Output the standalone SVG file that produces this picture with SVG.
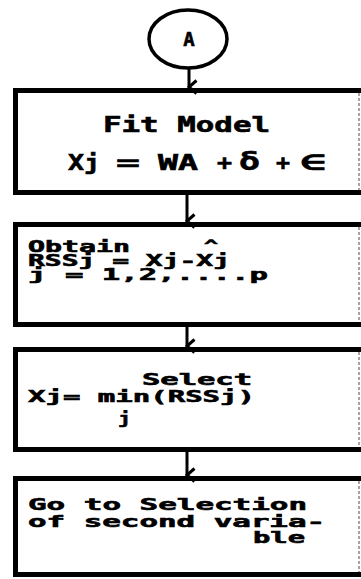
<svg xmlns="http://www.w3.org/2000/svg" width="361" height="579" viewBox="0 0 361 579">
<defs>
<style>
.t{font-family:"DejaVu Sans Mono","Liberation Mono",monospace;font-weight:bold;fill:#000;stroke:#000;stroke-width:0.6}
.s16{font-size:16px}
.s21{font-size:21px}
.frame{fill:none;stroke:#000;stroke-width:5}
.edge{fill:none;stroke:#888;stroke-width:1.5;stroke-dasharray:3 2}
.conn{fill:none;stroke:#000;stroke-width:3}
</style>
<marker id="ah" markerWidth="16" markerHeight="11" refX="8" refY="9" orient="auto" markerUnits="userSpaceOnUse" viewBox="0 0 16 11">
<path d="M1.5,1.5 L8,9 L14.5,1.5" fill="none" stroke="#000" stroke-width="3"/>
</marker>
</defs>
<rect width="361" height="579" fill="#fff"/>
<g id="connectors">
<line class="conn" x1="189" y1="68" x2="189" y2="87" marker-end="url(#ah)"/>
<line class="conn" x1="187" y1="195" x2="187" y2="221" marker-end="url(#ah)"/>
<line class="conn" x1="187" y1="327" x2="187" y2="346" marker-end="url(#ah)"/>
<line class="conn" x1="187" y1="452" x2="187" y2="475" marker-end="url(#ah)"/>
</g>
<g id="nodeA">
<ellipse cx="188" cy="39" rx="39" ry="29" fill="#fff" stroke="#000" stroke-width="3.5"/>
<text class="t" x="189" y="46" font-size="19" text-anchor="middle">A</text>
</g>
<g id="fitModel">
<path class="frame" d="M361,90.5 H15.5 V192.5 H361"/>
<line class="edge" x1="359" y1="93" x2="359" y2="190"/>
<text class="t s21" x="103" y="132" textLength="167" lengthAdjust="spacingAndGlyphs">Fit Model</text>
<text class="t s21" x="68" y="170" textLength="32" lengthAdjust="spacingAndGlyphs">Xj</text>
<text class="t s21" x="116" y="170" textLength="24" lengthAdjust="spacingAndGlyphs">=</text>
<text class="t s21" x="158" y="170" textLength="40" lengthAdjust="spacingAndGlyphs">WA</text>
<text class="t s21" x="217" y="170" textLength="15" lengthAdjust="spacingAndGlyphs">+</text>
<text class="t" x="239" y="170" font-size="25" textLength="21" lengthAdjust="spacingAndGlyphs">δ</text>
<text class="t s21" x="276" y="170" textLength="14" lengthAdjust="spacingAndGlyphs">+</text>
<text class="t s21" x="300" y="170" textLength="26" lengthAdjust="spacingAndGlyphs">∈</text>
</g>
<g id="obtain">
<path class="frame" d="M361,224.5 H15.5 V324.5 H361"/>
<line class="edge" x1="359" y1="227" x2="359" y2="322"/>
<text class="t s16" x="28" y="252" textLength="102" lengthAdjust="spacingAndGlyphs">Obtain</text>
<text class="t s16" x="204" y="251" textLength="14" lengthAdjust="spacingAndGlyphs">^</text>
<text class="t s16" x="28" y="266" textLength="202" lengthAdjust="spacingAndGlyphs">RSSj = Xj-Xj</text>
<text class="t s16" x="28" y="280" textLength="240" lengthAdjust="spacingAndGlyphs">j = 1,2,....p</text>
</g>
<g id="select">
<path class="frame" d="M361,349.5 H15.5 V449.5 H361"/>
<line class="edge" x1="359" y1="352" x2="359" y2="447"/>
<text class="t s16" x="142" y="385" textLength="110" lengthAdjust="spacingAndGlyphs">Select</text>
<text class="t s16" x="28" y="402" textLength="227" lengthAdjust="spacingAndGlyphs">Xj= min(RSSj)</text>
<text class="t s16" x="118" y="424" textLength="13" lengthAdjust="spacingAndGlyphs">j</text>
</g>
<g id="goTo">
<path class="frame" d="M361,478.5 H15.5 V574.5 H361"/>
<line class="edge" x1="359" y1="481" x2="359" y2="572"/>
<text class="t s16" x="28" y="510" textLength="279" lengthAdjust="spacingAndGlyphs">Go to Selection</text>
<text class="t s16" x="28" y="527" textLength="297" lengthAdjust="spacingAndGlyphs">of second varia-</text>
<text class="t s16" x="253" y="543" textLength="52" lengthAdjust="spacingAndGlyphs">ble</text>
</g>
</svg>
